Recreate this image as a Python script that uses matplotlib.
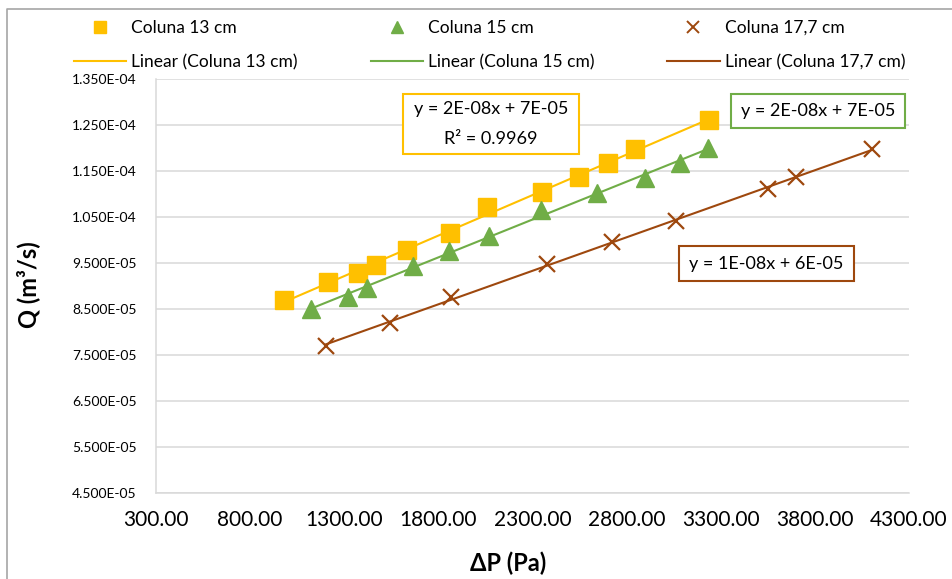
import matplotlib
matplotlib.use("Agg")
from matplotlib import pyplot as plt
from matplotlib.lines import Line2D
from matplotlib.patches import Rectangle
from matplotlib.ticker import FuncFormatter
import numpy as np

plt.rcParams['font.family'] = ['Lato', 'DejaVu Sans']

# pressure drop (Pa) and flow rate (m3/s) for each column height
dp_13 = [980, 1214, 1373, 1469, 1633, 1862, 2058, 2350, 2547, 2701, 2844, 3238]
q_13 = [8.70e-5, 9.09e-5, 9.28e-5, 9.46e-5, 9.78e-5, 10.15e-5, 10.72e-5, 11.04e-5, 11.37e-5, 11.67e-5, 11.98e-5, 12.61e-5]

dp_15 = [1123, 1320, 1421, 1665, 1856, 2069, 2345, 2643, 2898, 3083, 3232]
q_15 = [8.50e-5, 8.76e-5, 8.96e-5, 9.43e-5, 9.76e-5, 10.09e-5, 10.65e-5, 11.02e-5, 11.35e-5, 11.67e-5, 12.00e-5]

dp_177 = [1203, 1543, 1867, 2377, 2722, 3062, 3551, 3700, 4103]
q_177 = [7.70e-5, 8.20e-5, 8.76e-5, 9.48e-5, 9.96e-5, 10.41e-5, 11.11e-5, 11.37e-5, 11.98e-5]

x_ticks = [300, 800, 1300, 1800, 2300, 2800, 3300, 3800, 4300]
y_ticks = [4.5e-5, 5.5e-5, 6.5e-5, 7.5e-5, 8.5e-5, 9.5e-5, 10.5e-5, 11.5e-5, 12.5e-5, 13.5e-5]

yellow = "#FFC000"
green = "#70AD47"
brown = "#9E480E"

W, H = 953, 579

def fx(px):
    return px / W

def fy(py):
    return 1 - py / H

fig = plt.figure(figsize=(W / 100, H / 100), dpi=100)
ax = fig.add_axes([fx(156), fy(493), fx(909) - fx(156), fy(79) - fy(493)])

def trend(x, y):
    c = np.polyfit(x, y, 1)
    xs = np.array([min(x), max(x)])
    return xs, np.polyval(c, xs)

ax.plot(dp_13, q_13, "s", color=yellow, markersize=13, zorder=3)
ax.plot(dp_15, q_15, "^", color=green, markersize=13, zorder=3)
ax.plot(dp_177, q_177, "x", color=brown, markersize=12, markeredgewidth=1.6, zorder=3)

for x, y, col in [(dp_13, q_13, yellow), (dp_15, q_15, green), (dp_177, q_177, brown)]:
    xs, ys = trend(x, y)
    ax.plot(xs, ys, color=col, linewidth=1.5, zorder=2)

ax.set_xlim(300, 4300)
ax.set_ylim(4.5e-5, 13.5e-5)
ax.set_xticks(x_ticks)
ax.set_yticks(y_ticks)
ax.xaxis.set_major_formatter(FuncFormatter(lambda v, p: f"{v:.2f}"))
ax.yaxis.set_major_formatter(FuncFormatter(lambda v, p: f"{v:.3E}"))
ax.tick_params(axis="x", labelsize=15, length=0, pad=12, colors="#000000")
ax.tick_params(axis="y", labelsize=10, length=0, pad=14, colors="#000000")
ax.grid(axis="y", color="#D9D9D9", linewidth=1.1)
ax.set_axisbelow(True)
for s in ["top", "right"]:
    ax.spines[s].set_visible(False)
ax.spines["left"].set_color("#D9D9D9")
ax.spines["bottom"].set_color("#D9D9D9")
ax.spines["left"].set_linewidth(1.1)
ax.spines["bottom"].set_linewidth(1.1)

fig.text(fx(508), fy(563), "ΔP (Pa)", fontsize=17, fontweight="bold", ha="center", va="center")
fig.text(fx(28), fy(285), "Q (m³/s)", fontsize=17, fontweight="bold", ha="center", va="center", rotation=90)

# legend
handles = [
    Line2D([], [], marker="s", linestyle="none", color=yellow, markersize=9),
    Line2D([], [], color=yellow, linewidth=1.5),
    Line2D([], [], marker="^", linestyle="none", color=green, markersize=9),
    Line2D([], [], color=green, linewidth=1.5),
    Line2D([], [], marker="x", linestyle="none", color=brown, markersize=8, markeredgewidth=1.4),
    Line2D([], [], color=brown, linewidth=1.5),
]
labels = ["Coluna 13 cm", "Linear (Coluna 13 cm)", "Coluna 15 cm", "Linear (Coluna 15 cm)",
          "Coluna 17,7 cm", "Linear (Coluna 17,7 cm)"]
fig.legend(handles, labels, ncol=3, loc="upper left", bbox_to_anchor=(fx(74), fy(20)),
           frameon=False, fontsize=12.5, handlelength=3.0, handletextpad=0.3,
           columnspacing=4.2, labelspacing=1.05, borderpad=0, borderaxespad=0)

# equation boxes
def eq_box(x0, y0, x1, y1, col, lines):
    fig.add_artist(Rectangle((fx(x0), fy(y1)), fx(x1) - fx(x0), fy(y0) - fy(y1),
                             transform=fig.transFigure, facecolor="white",
                             edgecolor=col, linewidth=1.5, zorder=5))
    n = len(lines)
    for i, t in enumerate(lines):
        yc = y0 + (y1 - y0) * (i + 0.5) / n
        fig.text(fx((x0 + x1) / 2), fy(yc), t, fontsize=13, ha="center", va="center", zorder=6)

eq_box(403, 94, 579, 154, yellow, ["y = 2E-08x + 7E-05", "R² = 0.9969"])
eq_box(731, 94, 905, 128, green, ["y = 2E-08x + 7E-05"])
eq_box(679, 246, 854, 281, brown, ["y = 1E-08x + 6E-05"])

# chart area border (cropped on right and bottom)
fig.add_artist(Line2D([fx(7), fx(7), 1], [0, fy(9), fy(9)], transform=fig.transFigure,
                      color="#A6A6A6", linewidth=1.2))

fig.savefig("out.png", dpi=100)
